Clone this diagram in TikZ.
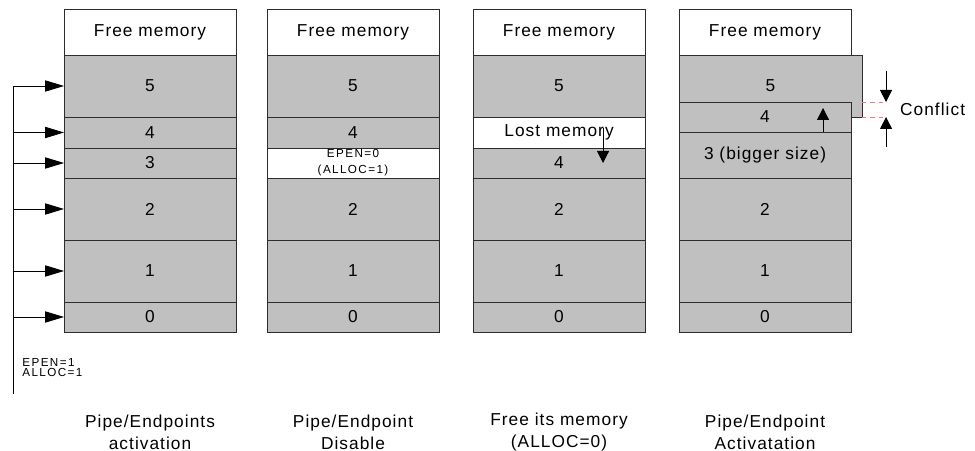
\documentclass[tikz,border=0pt]{standalone}
\usepackage{fontspec}
\setmainfont{Liberation Sans}[LetterSpace=6]
\newfontfamily\notefont{Liberation Sans}[LetterSpace=12]
\usetikzlibrary{arrows.meta,positioning,calc}
\definecolor{memgray}{RGB}{192,192,192}
\definecolor{edgegray}{RGB}{45,45,45}

\begin{document}
\begin{tikzpicture}[x=0.025cm, y=-0.025cm, font=\fontsize{12.3}{15.5}\selectfont, line width=0.6pt,
    mem/.style={draw=edgegray, fill=memgray, minimum width=4.3cm, inner sep=0pt, outer sep=0pt},
    free/.style={mem, fill=white},
    h/.style={minimum height=#1*0.025cm},
    tip/.style={-{Triangle[length=0.3cm, width=0.3cm]}},
    bigtip/.style={-{Triangle[length=0.47cm, width=0.28cm]}},
    note/.style={font=\notefont\fontsize{8.3}{#1}\selectfont, align=center, inner sep=0pt}]
  \useasboundingbox (0,0) rectangle (975,451);
  % blocks every column has
  \foreach \col/\x in {a/64, b/267, c/473, d/679} {
    \node[free, h=46, anchor=north west] (\col f) at (\x,9) {Free memory};
    \node[mem, h=62, anchor=north west] (\col 2) at (\x,178) {2};
    \node[mem, h=62, below=0pt of \col 2] (\col 1) {1};
    \node[mem, h=30, below=0pt of \col 1] (\col 0) {0};
  }
  % activation
  \node[mem, h=62, below=0pt of af] (a5) {5};
  \node[mem, h=31, below=0pt of a5] (a4) {4};
  \node[mem, h=30, below=0pt of a4] (a3) {3};
  \coordinate (bus) at (13,394);
  \draw (bus) -- (bus |- a5.west);
  \foreach \n in {5,4,3,2,1,0}
    \draw[bigtip] (bus |- a\n.west) -- (a\n.west);
  \node[note=7.4pt, align=left, anchor=north west] (en) at (22,358) {EPEN=1\\ALLOC=1};
  % disable
  \node[mem, h=62, below=0pt of bf] (b5) {5};
  \node[mem, h=31, below=0pt of b5] (b4) {4};
  \node[free, h=30, below=0pt of b4, note=11.4pt] (b3) {EPEN=0\\(ALLOC=1)};
  % free
  \node[mem, h=62, below=0pt of cf] (c5) {5};
  \node[free, h=31, below=0pt of c5] (c4) {Lost memory};
  \node[mem, h=30, below=0pt of c4] (c3) {4};
  \draw[tip] ([xshift=-1.05cm, yshift=0.1cm]c4.east) -- ([xshift=-1.05cm]c3.east);
  % re-activation
  \node[mem, h=62, minimum width=4.575cm, anchor=north west] (d5) at (df.south west) {5};
  \node[mem, h=46, above=0pt of d2] (d3) {3 (bigger size)};
  \node[mem, h=30, above=0pt of d3] (d4) {4};
  \draw[tip] ([xshift=-0.7cm]d4.south east) -- ([xshift=-0.7cm, yshift=0.225cm]d4.east);
  \coordinate (ct) at (d5.east |- d4.north);
  \draw[dashed, red!55] (ct) -- ++(24,0) coordinate (ca);
  \draw[dashed, red!55] (d5.south east) -- ++(24,0) coordinate (cb);
  \draw[tip] ($(ca)+(0,-31)$) -- (ca);
  \draw[tip] ($(cb)+(0,30)$) -- (cb);
  \node[anchor=west] (cfl) at ($(ca)!0.5!(cb)+(9,0)$) {Conflict};
  % captions
  \node[align=center] (ta) at ($(a0.south)+(0,100)$) {Pipe/Endpoints\\activation};
  \node[align=center] (tb) at ($(b0.south)+(0,100)$) {Pipe/Endpoint\\Disable};
  \node[align=center] (tc) at ($(c0.south)+(0,100)$) {Free its memory\\(ALLOC=0)};
  \node[align=center] (td) at ($(d0.south)+(0,100)$) {Pipe/Endpoint\\Activatation};
\end{tikzpicture}
\end{document}
